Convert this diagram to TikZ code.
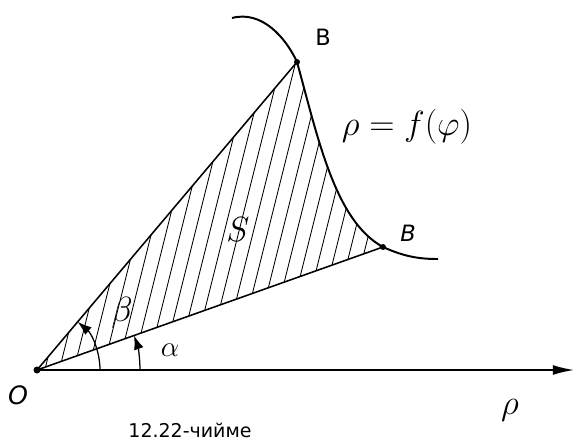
\documentclass[tikz,border=0pt]{standalone}
\usepackage{fontspec}
\newfontfamily\capfont{DejaVu Sans}
\usetikzlibrary{arrows.meta,calc,positioning}
\tikzset{
  curve/.style={line width=1.4pt},
  ray/.style={line width=1.1pt},
  hatch/.style={line width=0.6pt},
  angarrow/.style={line width=0.9pt,-{Latex[length=10pt,width=7pt]}},
  blabel/.style={font=\capfont\fontsize{16}{18}\selectfont},
}
\begin{document}
\begin{tikzpicture}[x=0.025cm,y=0.025cm]
        \useasboundingbox (0,0) rectangle (576,443);
        % points
        \coordinate (O) at (37,73);
        \coordinate (B1) at (297,381);
        \coordinate (B2) at (383,196);
        \coordinate (C0) at (232,425);
        \coordinate (C3) at (438,184);
        \coordinate (X) at (574,73);
        % hatching of S
        \begin{scope}
          \clip (O) -- (B1) .. controls (318,305) and (335,222) .. (B2) -- cycle;
          \foreach \i in {0,...,34}
            \draw[hatch] (-60+\i*14.5,60) -- ++(100,400);
        \end{scope}
        % rays
        \draw[ray] (O) -- (B1);
        \draw[ray] (O) -- (B2);
        %axis
        \draw[ray,-{Latex[length=15pt,width=7pt]}] (O) -- (X);
        % curve
        \draw[curve] (C0) .. controls (262,433) and (286,405) .. (B1)
          .. controls (318,305) and (335,222) .. (B2)
          .. controls (405,186) and (420,184) .. (C3);
        % dots
        \fill (O) circle (3.5);
        \fill (B1) circle (3);
        \fill (B2) circle (3);
        % angles
        \draw[angarrow] ($(O)+(63,0)$) arc (0:49.8:63);
        \draw[angarrow] ($(O)+(103,0)$) arc (0:19.6:103);
        % labels
        \draw (18,48) node[blabel,font=\capfont\fontsize{18}{20}\selectfont\itshape] {O};
        \draw (323,406) node[blabel] {B};
        \draw (408,210) node[blabel,font=\capfont\fontsize{16}{18}\selectfont\itshape] {B};
        \draw (407,316) node {\fontsize{25}{28}\selectfont$\rho=f(\varphi)$};
        \draw (238,213) node {\fontsize{38}{40}\selectfont$S$};
        \draw (122,130) node {\fontsize{27}{30}\selectfont$\beta$};
        \draw (170,93) node {\fontsize{20}{22}\selectfont$\alpha$};
        \draw (510,33) node {\fontsize{38}{40}\selectfont$\rho$};
        \draw (190,13) node {\capfont\fontsize{13.5}{15}\selectfont 12.22-чийме};
\end{tikzpicture}
\end{document}
